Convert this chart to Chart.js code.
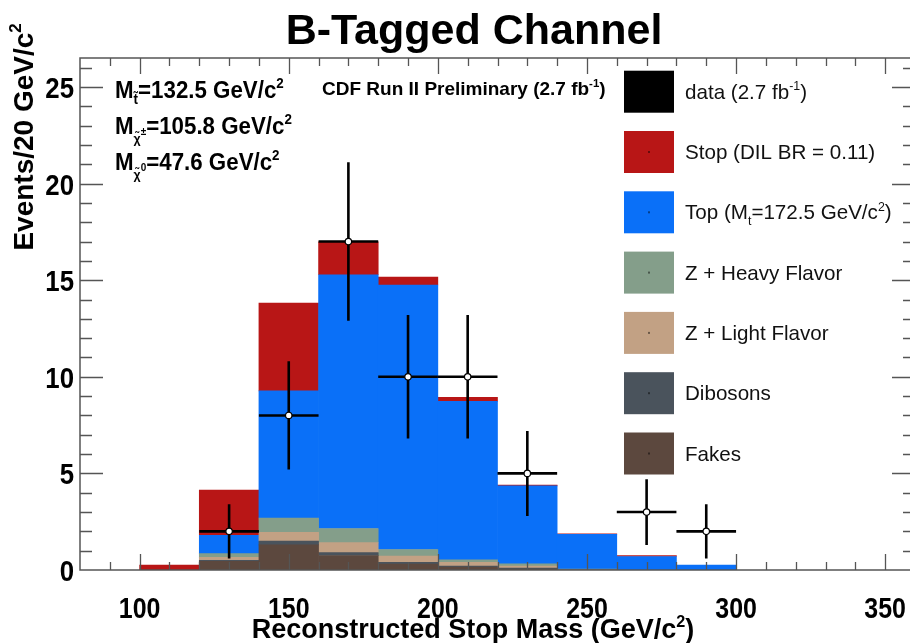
<!DOCTYPE html>
<html>
<head>
<meta charset="utf-8">
<script src="https://cdn.jsdelivr.net/npm/chart.js@4.4.1/dist/chart.umd.min.js"></script>
<style>
  html, body { margin: 0; padding: 0; background: #fff; overflow: hidden; }
  #wrap { width: 925px; height: 643px; }
</style>
</head>
<body>
<div id="wrap"><canvas id="stop-chart" width="925" height="643"></canvas></div>
<script>
// 20 GeV bins, centres in GeV/c^2
const binCenters = [90, 110, 130, 150, 170, 190, 210, 230, 250, 270, 290, 310, 330, 350];
const fakes    = [0, 0, 0.45, 1.30, 0.75, 0.30, 0.15, 0.05, 0, 0, 0, 0, 0, 0];
const dibosons = [0, 0, 0.05, 0.20, 0.15, 0.10, 0.05, 0.05, 0.01, 0, 0, 0, 0, 0];
const zLight   = [0, 0, 0.15, 0.45, 0.52, 0.32, 0.20, 0.10, 0.01, 0, 0, 0, 0, 0];
const zHeavy   = [0, 0, 0.20, 0.74, 0.73, 0.34, 0.12, 0.12, 0.03, 0, 0, 0, 0, 0];
const ttbar    = [0, 0, 0.95, 6.58, 13.13, 13.69, 8.21, 4.03, 1.80, 0.70, 0.25, 0, 0, 0];
const stop     = [0, 0.25, 2.34, 4.55, 1.71, 0.41, 0.21, 0.05, 0.02, 0.04, 0, 0, 0, 0];

// observed events
const dataX   = [130, 150, 170, 190, 210, 230, 270, 290];
const dataY   = [2, 8, 17, 10, 10, 5, 3, 2];
const dataErr = [1.4, 2.8, 4.1, 3.2, 3.2, 2.2, 1.7, 1.4];
const binHalfWidth = 10;

const xTickLabels = [100, 150, 200, 250, 300, 350];
const yTickLabels = [0, 5, 10, 15, 20, 25];

const FONT = '"Liberation Sans", Arial, Helvetica, sans-serif';

function histo(label, values, color) {
    return {
        label: label,
        data: binCenters.map((x, i) => ({ x: x, y: values[i] })).filter(p => p.y > 0),
        backgroundColor: color,
        borderWidth: 0,
        stack: 'mc',
        categoryPercentage: 1.0,
        barPercentage: 1.0
    };
}

// rich text: parts are {t, s: size factor, dy: baseline shift in em}
function richText(ctx, parts, x, y, size, bold, align, sx) {
    sx = sx || 1;
    const font = f => (bold ? 'bold ' : '') + (size * f).toFixed(1) + 'px ' + FONT;
    let w = 0;
    parts.forEach(p => { ctx.font = font(p.s || 1); w += ctx.measureText(p.t).width; });
    ctx.save();
    ctx.translate(x, y);
    ctx.scale(sx, 1);
    let cx = align === 'center' ? -w / 2 : (align === 'right' ? -w : 0);
    ctx.textAlign = 'left';
    ctx.textBaseline = 'alphabetic';
    parts.forEach(p => {
        ctx.font = font(p.s || 1);
        ctx.fillText(p.t, cx, (p.dy || 0) * size);
        cx += ctx.measureText(p.t).width;
    });
    ctx.restore();
}
const N = t => ({ t: t });
const SUP = t => ({ t: t, s: 0.6, dy: -0.42 });
const SUB = t => ({ t: t, s: 0.6, dy: 0.28 });

const legendOrder = [0, 6, 5, 4, 3, 2, 1];
const legendText = {
    0: [N('data (2.7 fb'), SUP('-1'), N(')')],
    6: [N('Stop (DIL BR = 0.11)')],
    5: [N('Top (M'), SUB('t'), N('=172.5 GeV/c'), SUP('2'), N(')')],
    4: [N('Z + Heavy Flavor')],
    3: [N('Z + Light Flavor')],
    2: [N('Dibosons')],
    1: [N('Fakes')]
};

const hepStyle = {
    id: 'hepStyle',
    beforeDatasetDraw(chart, args) {
        if (args.index !== 0) return;
        // error bars of the data points, markers are drawn on top by the scatter dataset
        const ctx = chart.ctx, xs = chart.scales.x, ys = chart.scales.y;
        ctx.save();
        ctx.strokeStyle = '#000';
        ctx.lineWidth = 2.6;
        dataX.forEach((x, i) => {
            const px = xs.getPixelForValue(x), py = ys.getPixelForValue(dataY[i]);
            ctx.beginPath();
            ctx.moveTo(xs.getPixelForValue(x - binHalfWidth), py);
            ctx.lineTo(xs.getPixelForValue(x + binHalfWidth), py);
            ctx.moveTo(px, ys.getPixelForValue(dataY[i] - dataErr[i]));
            ctx.lineTo(px, ys.getPixelForValue(dataY[i] + dataErr[i]));
            ctx.stroke();
        });
        ctx.restore();
    },
    afterDraw(chart) {
        const ctx = chart.ctx, a = chart.chartArea;
        const xs = chart.scales.x, ys = chart.scales.y;
        ctx.save();

        // frame
        ctx.strokeStyle = '#555';
        ctx.lineWidth = 1.5;
        ctx.strokeRect(a.left, a.top, a.right - a.left, a.bottom - a.top);

        // inward ticks on all four sides
        ctx.lineWidth = 1.3;
        ctx.beginPath();
        for (let v = 90; v < xs.max; v += 10) {
            const px = Math.round(xs.getPixelForValue(v)) + 0.5;
            const len = v % 50 === 0 ? 16 : 8;
            ctx.moveTo(px, a.bottom); ctx.lineTo(px, a.bottom - len);
            ctx.moveTo(px, a.top); ctx.lineTo(px, a.top + len);
        }
        for (let v = 1; v < ys.max; v += 1) {
            const py = Math.round(ys.getPixelForValue(v)) + 0.5;
            const len = v % 5 === 0 ? 23 : 12;
            ctx.moveTo(a.left, py); ctx.lineTo(a.left + len, py);
            ctx.moveTo(a.right, py); ctx.lineTo(a.right - len, py);
        }
        ctx.stroke();

        // tick labels
        ctx.fillStyle = '#000';
        xTickLabels.forEach(v => {
            richText(ctx, [N(String(v))], xs.getPixelForValue(v), a.bottom + 48, 29, true, 'center', 0.86);
        });
        yTickLabels.forEach(v => {
            richText(ctx, [N(String(v))], a.left - 6, ys.getPixelForValue(v) + 11, 30, true, 'right', 0.86);
        });

        // titles
        richText(ctx, [N('B-Tagged Channel')], 474, 44, 43, true, 'center');
        richText(ctx, [N('Reconstructed Stop Mass (GeV/c'), SUP('2'), N(')')], 473, 638, 27, true, 'center');
        ctx.save();
        ctx.translate(33, 137);
        ctx.rotate(-Math.PI / 2);
        richText(ctx, [N('Events/20 GeV/c'), SUP('2')], 0, 0, 28, true, 'center');
        ctx.restore();

        // mass point and experiment labels
        richText(ctx, [N('M'), SUB('t\u0303'), N('=132.5 GeV/c'), SUP('2')], 115, 98, 23, true, 'left', 0.97);
        richText(ctx, [N('M'), { t: '\u03c7\u0303', s: 0.55, dy: 0.38 }, { t: '\u00b1', s: 0.45, dy: 0.05 }, N('=105.8 GeV/c'), SUP('2')], 115, 134, 23, true, 'left', 0.97);
        richText(ctx, [N('M'), { t: '\u03c7\u0303', s: 0.55, dy: 0.38 }, { t: '0', s: 0.45, dy: 0.05 }, N('=47.6 GeV/c'), SUP('2')], 115, 170, 23, true, 'left', 0.97);
        richText(ctx, [N('CDF Run II Preliminary (2.7 fb'), SUP('-1'), N(')')], 322, 95, 19, true, 'left');

        // legend
        legendOrder.forEach((di, row) => {
            const ds = chart.data.datasets[di];
            const top = 70.7 + row * 60.3;
            ctx.fillStyle = ds.legendColor || ds.backgroundColor;
            ctx.fillRect(624, top, 50, 42);
            ctx.fillStyle = 'rgba(0,0,0,0.45)';
            ctx.fillRect(648, top + 20, 2, 2);
            ctx.fillStyle = '#111';
            richText(ctx, legendText[di], 685, top + 28, 20.6, false, 'left');
        });
        ctx.restore();
    }
};

new Chart(document.getElementById('stop-chart'), {
    type: 'bar',
    data: {
        datasets: [
            {
                type: 'scatter',
                label: 'data (2.7 fb-1)',
                data: dataX.map((x, i) => ({ x: x, y: dataY[i] })),
                stack: 'obs',
                legendColor: '#000',
                pointRadius: 3.2,
                pointBackgroundColor: '#fff',
                pointBorderColor: '#000',
                pointBorderWidth: 1.2
            },
            histo('Fakes', fakes, '#5c483e'),
            histo('Dibosons', dibosons, '#4a535c'),
            histo('Z + Light Flavor', zLight, '#c2a184'),
            histo('Z + Heavy Flavor', zHeavy, '#849e8a'),
            histo('Top', ttbar, '#0a70f8'),
            histo('Stop (DIL BR = 0.11)', stop, '#b81616')
        ]
    },
    options: {
        responsive: false,
        animation: false,
        devicePixelRatio: 1,
        layout: { padding: { left: 80, right: 10, top: 58, bottom: 73 } },
        plugins: { legend: { display: false }, tooltip: { enabled: false } },
        scales: {
            x: {
                type: 'linear', min: 80, max: 360, stacked: true, display: false, offset: false,
                afterBuildTicks: s => { s.ticks = xTickLabels.map(v => ({ value: v })); }
            },
            y: {
                min: 0, max: 26.5, stacked: true, display: false,
                afterBuildTicks: s => { s.ticks = yTickLabels.map(v => ({ value: v })); }
            }
        }
    },
    plugins: [hepStyle]
});
</script>
</body>
</html>
